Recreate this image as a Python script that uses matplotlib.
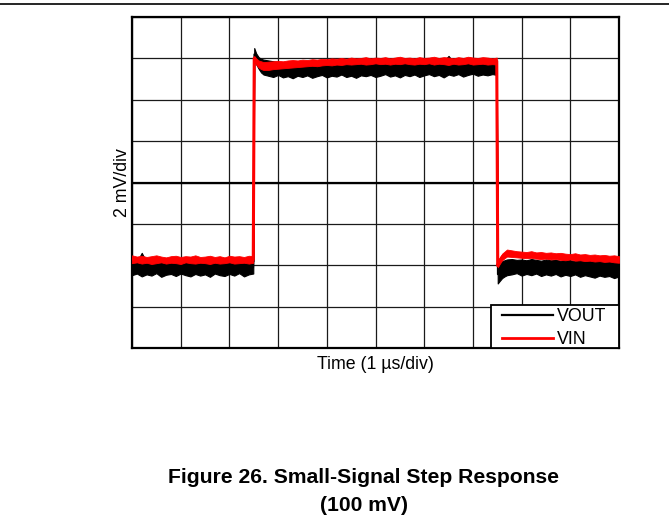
import numpy as np
import matplotlib
matplotlib.use("Agg")
from matplotlib import pyplot as plt
from matplotlib.lines import Line2D
from matplotlib.patches import Rectangle

plt.rcParams['font.family'] = ['Liberation Sans', 'DejaVu Sans']

# time in us (1 us/div), amplitude in divisions (2 mV/div)
t = [0.0, 0.1, 0.2, 0.3, 0.4, 0.5, 0.6, 0.7, 0.8, 0.9, 1.0, 1.1, 1.2, 1.3, 1.4, 1.5, 1.6, 1.7, 1.8, 1.9,
     2.0, 2.1, 2.2, 2.3, 2.4, 2.49,
     2.51, 2.55, 2.6, 2.65, 2.7, 2.8, 2.9, 3.0, 3.1, 3.2, 3.3, 3.4, 3.5, 3.6, 3.7, 3.8, 3.9, 4.0, 4.1, 4.2,
     4.3, 4.4, 4.5, 4.6, 4.7, 4.8, 4.9, 5.0, 5.1, 5.2, 5.3, 5.4, 5.5, 5.6, 5.7, 5.8, 5.9, 6.0, 6.1, 6.2,
     6.3, 6.4, 6.5, 6.6, 6.7, 6.8, 6.9, 7.0, 7.1, 7.2, 7.3, 7.4, 7.49,
     7.51, 7.55, 7.6, 7.65, 7.7, 7.8, 7.9, 8.0, 8.1, 8.2, 8.3, 8.4, 8.5, 8.6, 8.7, 8.8, 8.9, 9.0, 9.1, 9.2,
     9.3, 9.4, 9.5, 9.6, 9.7, 9.8, 9.9, 10.0]

vin_top = [-1.76, -1.79, -1.77, -1.80, -1.78, -1.76, -1.79, -1.81, -1.78, -1.77, -1.80, -1.78, -1.79,
           -1.76, -1.80, -1.79, -1.77, -1.80, -1.78, -1.81, -1.77, -1.79, -1.78, -1.80, -1.77, -1.78,
           3.06, 3.00, 2.95, 2.93, 2.91,
           2.92, 2.93, 2.94, 2.93, 2.95, 2.96, 2.95, 2.97, 2.96, 2.98, 2.97, 2.99, 2.98, 3.00, 2.99, 3.01,
           2.99, 3.02, 3.00, 3.01, 3.03, 3.00, 3.02, 3.01, 3.03, 3.00, 3.02, 3.04, 3.01, 3.02, 3.00, 3.03,
           3.01, 3.02, 3.04, 3.01, 3.03, 3.02, 3.00, 3.03, 3.01, 3.04, 3.02, 3.01, 3.03, 3.02, 3.00,
           3.02,
           -1.97, -1.82, -1.72, -1.67, -1.62,
           -1.64, -1.66, -1.67, -1.68, -1.66, -1.69, -1.68, -1.70, -1.69, -1.71, -1.70, -1.72, -1.73,
           -1.71, -1.74, -1.73, -1.75, -1.74, -1.76, -1.75, -1.77, -1.76, -1.78]

vin_bot = [-1.95, -1.93, -1.96, -1.94, -1.97, -1.95, -1.93, -1.96, -1.94, -1.95, -1.97, -1.93, -1.95,
           -1.96, -1.94, -1.95, -1.97, -1.94, -1.96, -1.95, -1.93, -1.96, -1.95, -1.94, -1.96, -1.94,
           2.95, 2.85, 2.78, 2.74, 2.72,
           2.72, 2.74, 2.75, 2.76, 2.77, 2.78, 2.79, 2.80, 2.81, 2.82, 2.81, 2.83, 2.84, 2.83, 2.85, 2.84,
           2.86, 2.85, 2.86, 2.87, 2.85, 2.86, 2.88, 2.86, 2.87, 2.85, 2.87, 2.86, 2.88, 2.86, 2.85, 2.87,
           2.86, 2.88, 2.85, 2.87, 2.86, 2.84, 2.87, 2.85, 2.86, 2.88, 2.85, 2.86, 2.87, 2.85, 2.86,
           2.85,
           -2.05, -1.97, -1.88, -1.83, -1.79,
           -1.80, -1.81, -1.82, -1.83, -1.82, -1.84, -1.85, -1.84, -1.86, -1.85, -1.87, -1.88, -1.86,
           -1.89, -1.88, -1.90, -1.89, -1.91, -1.90, -1.92, -1.91, -1.93, -1.94]

vout_top = [-1.90, -1.92, -1.70, -1.93, -1.91, -1.94, -1.90, -1.92, -1.93, -1.91, -1.94, -1.92, -1.90,
            -1.93, -1.91, -1.92, -1.94, -1.90, -1.93, -1.92, -1.91, -1.93, -1.90, -1.92, -1.91, -1.90,
            3.25, 3.12, 3.03, 2.99, 2.97,
            2.95, 2.93, 2.91, 2.90, 2.92, 2.89, 2.91, 2.90, 2.88, 2.92, 2.90, 2.89, 2.91, 2.93, 2.90, 2.92,
            2.89, 2.91, 2.90, 2.92, 2.94, 2.90, 2.91, 2.93, 2.90, 2.92, 2.91, 2.89, 2.93, 2.91, 2.92, 2.90,
            2.94, 2.91, 2.92, 2.90, 2.93, 3.06, 2.91, 2.92, 2.90, 2.93, 2.91, 2.92, 2.94, 2.91, 2.92,
            2.90,
            -2.00, -1.95, -1.90, -1.88, -1.86,
            -1.85, -1.87, -1.86, -1.88, -1.85, -1.87, -1.89, -1.86, -1.88, -1.87, -1.89, -1.86, -1.88,
            -1.90, -1.87, -1.89, -1.88, -1.90, -1.87, -1.89, -1.91, -1.88, -1.90]

vout_bot = [-2.24, -2.20, -2.27, -2.22, -2.25, -2.19, -2.28, -2.23, -2.21, -2.26, -2.20, -2.24, -2.27,
            -2.21, -2.25, -2.22, -2.28, -2.20, -2.24, -2.26, -2.21, -2.25, -2.19, -2.27, -2.22, -2.20,
            2.95, 2.86, 2.75, 2.66, 2.61,
            2.58, 2.55, 2.60, 2.54, 2.57, 2.52, 2.58, 2.55, 2.59, 2.53, 2.57, 2.60, 2.54, 2.58, 2.56, 2.61,
            2.55, 2.58, 2.53, 2.59, 2.57, 2.60, 2.55, 2.58, 2.62, 2.56, 2.59, 2.54, 2.60, 2.57, 2.61, 2.55,
            2.59, 2.62, 2.57, 2.60, 2.54, 2.61, 2.58, 2.62, 2.56, 2.60, 2.63, 2.58, 2.61, 2.59, 2.62,
            2.60,
            -2.44, -2.38, -2.31, -2.27, -2.24,
            -2.22, -2.19, -2.25, -2.21, -2.24, -2.20, -2.26, -2.22, -2.25, -2.21, -2.27, -2.23, -2.26,
            -2.22, -2.28, -2.24, -2.27, -2.30, -2.25, -2.28, -2.26, -2.31, -2.27]

t = np.array(t)
vin_top, vin_bot = np.array(vin_top), np.array(vin_bot)
vout_top, vout_bot = np.array(vout_top), np.array(vout_bot)

fig = plt.figure(figsize=(6.69, 5.23), dpi=100)
ax = fig.add_axes([132/669, 1 - 348/523, 487/669, 331/523])

# scope trace: noise band + centre line so the edges stay solid
ax.fill_between(t, vout_bot, vout_top, color='black', lw=0.8, zorder=3)
ax.plot(t, (vout_top + vout_bot) / 2, color='black', lw=1.2, zorder=3)
ax.fill_between(t, vin_bot, vin_top, color='red', lw=0.6, zorder=4)
ax.plot(t, (vin_top + vin_bot) / 2, color='red', lw=2.2, zorder=4)

ax.set_xlim(0, 10)
ax.set_ylim(-4, 4)
ax.set_xticks(np.arange(0, 11, 1))
ax.set_yticks(np.arange(-4, 5, 1))
ax.grid(True, color='#1a1a1a', lw=0.9, zorder=1)
ax.axhline(0, color='black', lw=1.6, zorder=2)
ax.tick_params(length=0, labelbottom=False, labelleft=False)
for s in ax.spines.values():
    s.set_linewidth(1.6)

ax.set_xlabel('Time (1 µs/div)', fontsize=12.8, labelpad=6)
ax.set_ylabel('2 mV/div', fontsize=12.8, labelpad=1)

# legend box in the lower right corner (drawn by hand to get the padding right)
ax.add_patch(Rectangle((0.737, 0.0), 0.263, 0.130, transform=ax.transAxes, facecolor='white',
                       edgecolor='black', lw=1.3, zorder=6, clip_on=False))
ax.plot([0.760, 0.8645], [0.0997, 0.0997], transform=ax.transAxes, color='black', lw=1.6, zorder=7)
ax.plot([0.760, 0.8645], [0.0302, 0.0302], transform=ax.transAxes, color='red', lw=2, zorder=7)
ax.text(0.873, 0.094, 'VOUT', transform=ax.transAxes, fontsize=12.8, va='center', zorder=7)
ax.text(0.873, 0.025, 'VIN', transform=ax.transAxes, fontsize=12.8, va='center', zorder=7)

fig.add_artist(Line2D([0, 1], [1 - 3.5/523, 1 - 3.5/523], color='black', lw=1.2))
fig.text(364/669, 1 - 483/523, 'Figure 26. Small-Signal Step Response', ha='center', va='baseline',
         fontsize=15.2, fontweight='bold')
fig.text(364/669, 1 - 511/523, '(100 mV)', ha='center', va='baseline', fontsize=15.2, fontweight='bold')

plt.savefig('out.png', dpi=100)
